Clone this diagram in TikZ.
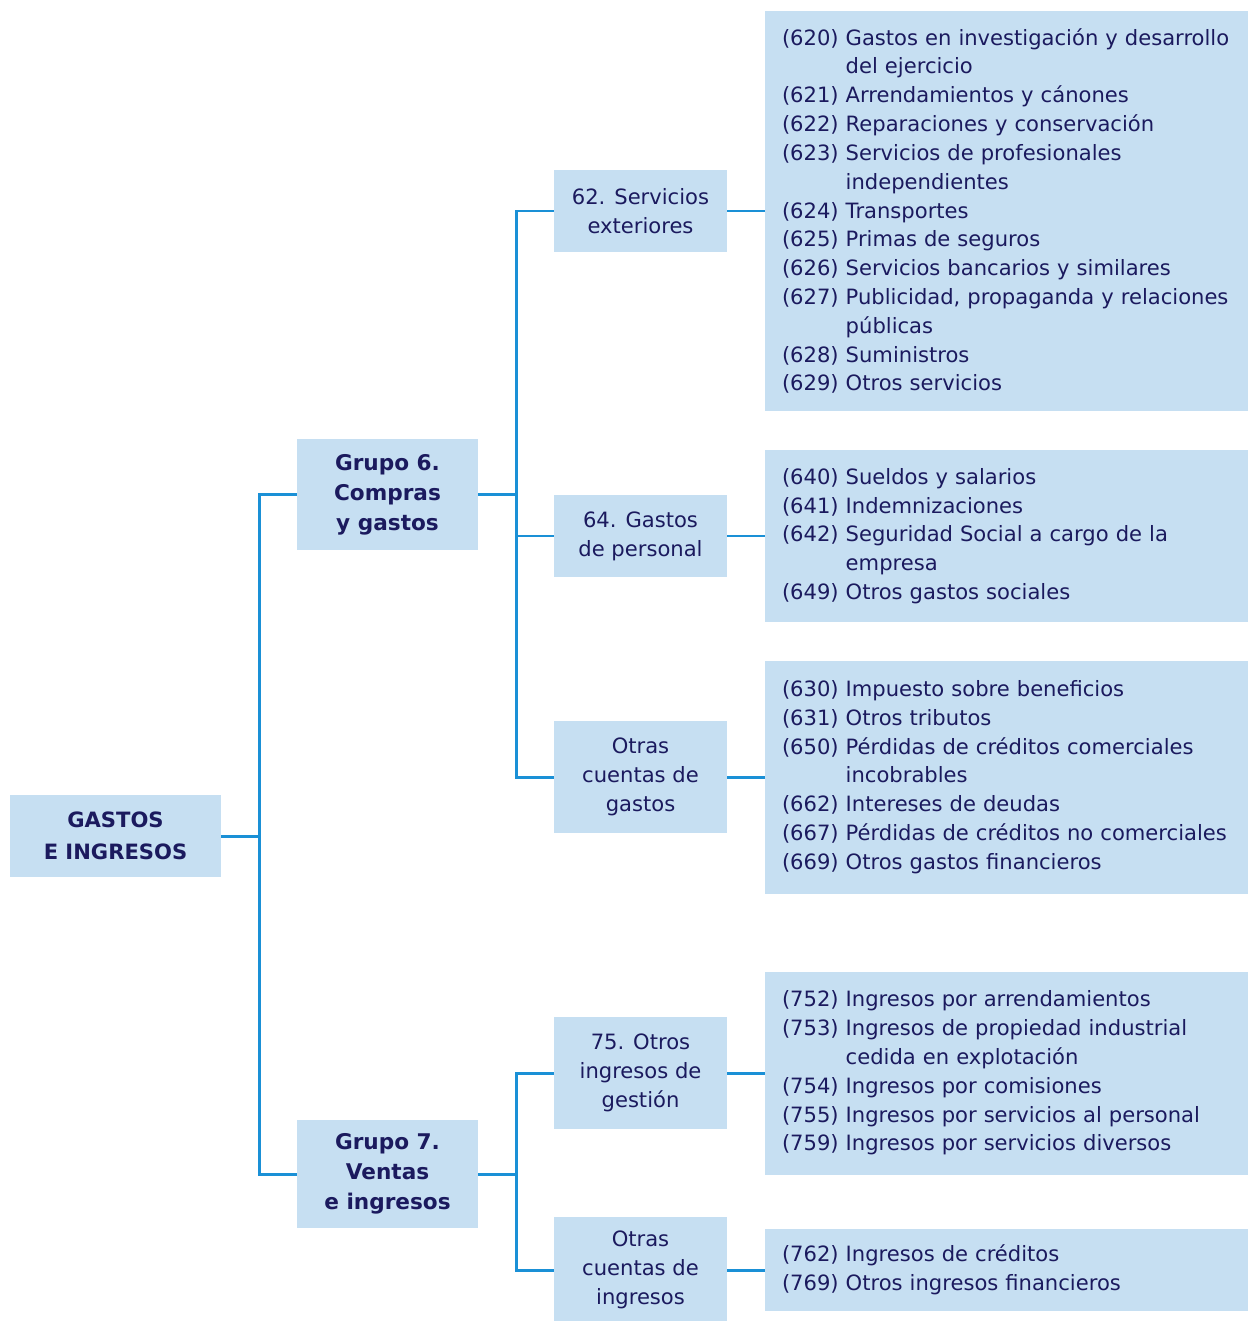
\documentclass[tikz,border=0pt]{standalone}
\usepackage{fontspec}
\setmainfont{DejaVu Sans}
\usepackage{xcolor}
\usepackage{tikz}
\definecolor{tinta}{HTML}{1B1A5E}
\definecolor{caja}{HTML}{C6DFF2}
\definecolor{linea}{HTML}{1A90D6}
\newcommand{\cta}[2]{\mbox{(#1)~#2}}
\newcommand{\sig}[1]{\mbox{\hphantom{(000)~}#1}}
\tikzset{raiz/.style={shape=rectangle,fill=caja,text=tinta,align=center,font=\bfseries\fontsize{12}{18}\selectfont,minimum width=4.22cm,minimum height=1.64cm},
grupo/.style={shape=rectangle,fill=caja,text=tinta,align=center,font=\bfseries\fontsize{12.3}{17}\selectfont,minimum width=3.62cm},
cuenta/.style={shape=rectangle,fill=caja,text=tinta,align=center,font=\fontsize{12}{16.4}\selectfont,minimum width=3.46cm},
lista/.style={shape=rectangle,fill=caja,text=tinta,align=left,font=\fontsize{12}{16.4}\selectfont,text width=8.98cm,inner xsep=0.34cm},
rama/.style={draw=linea,line width=1.7pt}}

\begin{document}
\begin{tikzpicture}
	\useasboundingbox (0,0) rectangle (24.98,-26.42);
	\node[raiz] (GI) at (2.31,-16.72) {GASTOS\\E INGRESOS};
	\node[grupo,minimum height=2.22cm] (G6) at (7.75,-9.89) {Grupo 6.\\Compras\\y gastos};
	\node[grupo,minimum height=2.16cm] (G7) at (7.75,-23.48) {Grupo 7.\\Ventas\\e ingresos};
	%
	\node[cuenta,minimum height=1.64cm] (C62) at (12.81,-4.22) {62. Servicios\\exteriores};
	\node[cuenta,minimum height=1.64cm] (C64) at (12.81,-10.72) {64. Gastos\\de personal};
	\node[cuenta,minimum height=2.24cm] (COG) at (12.81,-15.54) {Otras\\cuentas de\\gastos};
	\node[cuenta,minimum height=2.24cm] (C75) at (12.81,-21.46) {75. Otros\\ingresos de\\gestión};
	\node[cuenta,minimum height=2.12cm] (COI) at (12.81,-25.4) {Otras\\cuentas de\\ingresos};
	%
	\node[lista,minimum height=7.98cm] (L62) at (20.13,-4.22) {%
		\cta{620}{Gastos en investigación y desarrollo}\\
		\sig{del ejercicio}\\
		\cta{621}{Arrendamientos y cánones}\\
		\cta{622}{Reparaciones y conservación}\\
		\cta{623}{Servicios de profesionales}\\
		\sig{independientes}\\
		\cta{624}{Transportes}\\
		\cta{625}{Primas de seguros}\\
		\cta{626}{Servicios bancarios y similares}\\
		\cta{627}{Publicidad, propaganda y relaciones}\\
		\sig{públicas}\\
		\cta{628}{Suministros}\\
		\cta{629}{Otros servicios}};
	\node[lista,minimum height=3.44cm] (L64) at (20.13,-10.72) {%
		\cta{640}{Sueldos y salarios}\\
		\cta{641}{Indemnizaciones}\\
		\cta{642}{Seguridad Social a cargo de la}\\
		\sig{empresa}\\
		\cta{649}{Otros gastos sociales}};
	\node[lista,minimum height=4.66cm] (LOG) at (20.13,-15.54) {%
		\cta{630}{Impuesto sobre beneficios}\\
		\cta{631}{Otros tributos}\\
		\cta{650}{Pérdidas de créditos comerciales}\\
		\sig{incobrables}\\
		\cta{662}{Intereses de deudas}\\
		\cta{667}{Pérdidas de créditos no comerciales}\\
		\cta{669}{Otros gastos financieros}};
	\node[lista,minimum height=4.06cm] (L75) at (20.13,-21.46) {%
		\cta{752}{Ingresos por arrendamientos}\\
		\cta{753}{Ingresos de propiedad industrial}\\
		\sig{cedida en explotación}\\
		\cta{754}{Ingresos por comisiones}\\
		\cta{755}{Ingresos por servicios al personal}\\
		\cta{759}{Ingresos por servicios diversos}};
	\node[lista,minimum height=1.64cm] (LOI) at (20.13,-25.4) {%
		\cta{762}{Ingresos de créditos}\\
		\cta{769}{Otros ingresos financieros}};
	%
	\draw[rama] (GI.east) -- +(0.76,0) |- (G6.west);
	\draw[rama] (GI.east) -- +(0.76,0) |- (G7.west);
	\draw[rama] (G6.east) -- +(0.76,0) |- (C62.west);
	\draw[rama] (G6.east) -- +(0.76,0) |- (C64.west);
	\draw[rama] (G6.east) -- +(0.76,0) |- (COG.west);
	\draw[rama] (G7.east) -- +(0.76,0) |- (C75.west);
	\draw[rama] (G7.east) -- +(0.76,0) |- (COI.west);
	\draw[rama] (C62.east) -- (L62.west);
	\draw[rama] (C64.east) -- (L64.west);
	\draw[rama] (COG.east) -- (LOG.west);
	\draw[rama] (C75.east) -- (L75.west);
	\draw[rama] (COI.east) -- (LOI.west);
\end{tikzpicture}
\end{document}
